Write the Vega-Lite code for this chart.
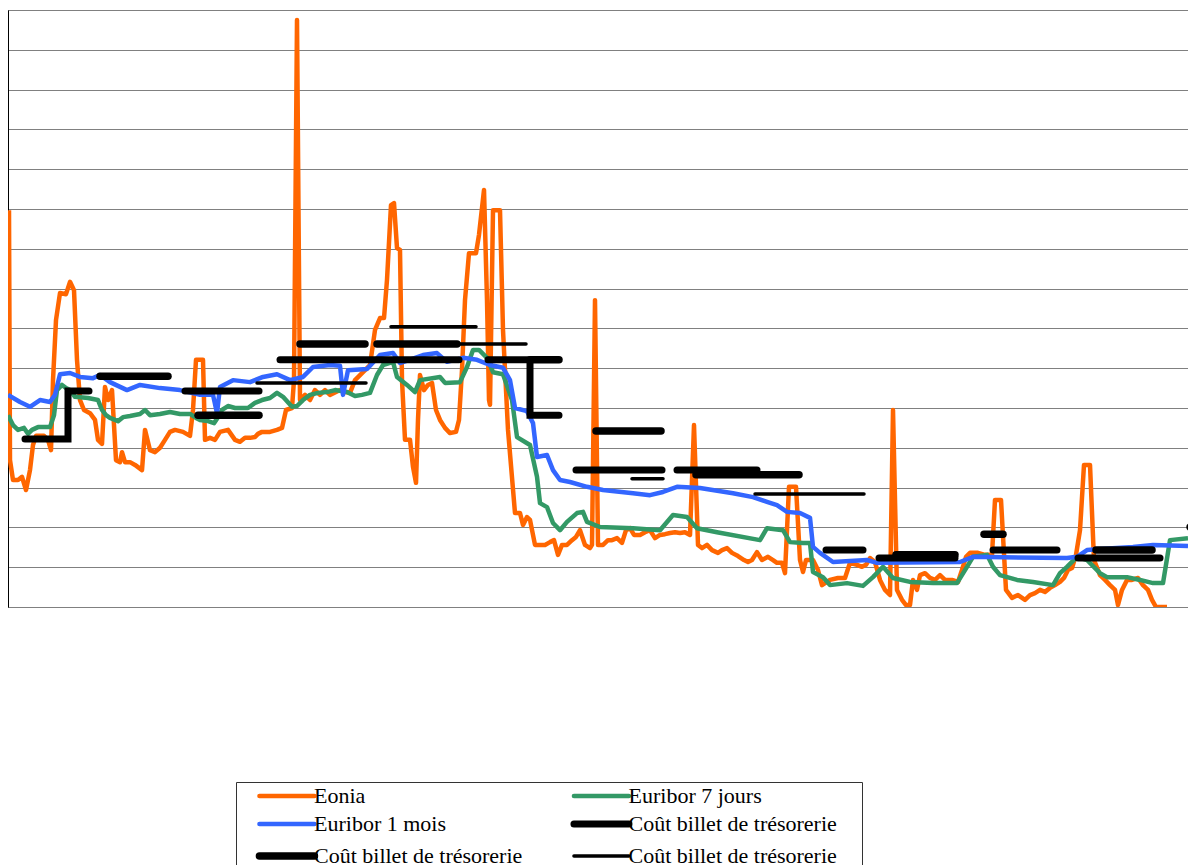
{
"$schema":"https://vega.github.io/schema/vega-lite/v6.json",
"width":1180,"height":597,
"autosize":{"type":"none"},
"padding":{"left":8,"top":10,"right":0,"bottom":258},
"background":"white",
"datasets":{
"rates":[
{"series":"Eonia","t":1,"v":9.97},{"series":"Eonia","t":2,"v":3.69},{"series":"Eonia","t":5,"v":3.19},{"series":"Eonia","t":10,"v":3.19},{"series":"Eonia","t":14,"v":3.27},{"series":"Eonia","t":18,"v":2.94},{"series":"Eonia","t":22,"v":3.44},{"series":"Eonia","t":25,"v":4.07},{"series":"Eonia","t":28,"v":4.3},{"series":"Eonia","t":36,"v":4.3},{"series":"Eonia","t":40,"v":4.2},{"series":"Eonia","t":43,"v":3.94},{"series":"Eonia","t":45,"v":5.7},{"series":"Eonia","t":48,"v":7.21},{"series":"Eonia","t":52,"v":7.89},{"series":"Eonia","t":58,"v":7.86},{"series":"Eonia","t":62,"v":8.17},{"series":"Eonia","t":66,"v":7.96},{"series":"Eonia","t":69,"v":6.21},{"series":"Eonia","t":72,"v":5.2},{"series":"Eonia","t":76,"v":4.95},{"series":"Eonia","t":82,"v":4.87},{"series":"Eonia","t":87,"v":4.7},{"series":"Eonia","t":90,"v":4.2},{"series":"Eonia","t":94,"v":4.1},{"series":"Eonia","t":97,"v":5.53},{"series":"Eonia","t":100,"v":5.2},{"series":"Eonia","t":104,"v":5.45},{"series":"Eonia","t":108,"v":3.69},{"series":"Eonia","t":112,"v":3.64},{"series":"Eonia","t":114,"v":3.89},{"series":"Eonia","t":117,"v":3.64},{"series":"Eonia","t":122,"v":3.64},{"series":"Eonia","t":127,"v":3.57},{"series":"Eonia","t":134,"v":3.44},{"series":"Eonia","t":137,"v":4.45},{"series":"Eonia","t":142,"v":3.94},{"series":"Eonia","t":147,"v":3.89},{"series":"Eonia","t":152,"v":4.0},{"series":"Eonia","t":157,"v":4.2},{"series":"Eonia","t":162,"v":4.4},{"series":"Eonia","t":167,"v":4.45},{"series":"Eonia","t":175,"v":4.4},{"series":"Eonia","t":182,"v":4.3},{"series":"Eonia","t":185,"v":4.95},{"series":"Eonia","t":188,"v":6.21},{"series":"Eonia","t":195,"v":6.21},{"series":"Eonia","t":197,"v":4.2},{"series":"Eonia","t":202,"v":4.25},{"series":"Eonia","t":207,"v":4.2},{"series":"Eonia","t":212,"v":4.4},{"series":"Eonia","t":220,"v":4.45},{"series":"Eonia","t":227,"v":4.2},{"series":"Eonia","t":232,"v":4.15},{"series":"Eonia","t":237,"v":4.25},{"series":"Eonia","t":242,"v":4.25},{"series":"Eonia","t":247,"v":4.27},{"series":"Eonia","t":250,"v":4.35},{"series":"Eonia","t":254,"v":4.4},{"series":"Eonia","t":262,"v":4.4},{"series":"Eonia","t":269,"v":4.45},{"series":"Eonia","t":274,"v":4.5},{"series":"Eonia","t":278,"v":4.95},{"series":"Eonia","t":284,"v":5.0},{"series":"Eonia","t":286,"v":5.7},{"series":"Eonia","t":289,"v":14.75},{"series":"Eonia","t":292,"v":5.2},{"series":"Eonia","t":297,"v":5.33},{"series":"Eonia","t":302,"v":5.2},{"series":"Eonia","t":307,"v":5.45},{"series":"Eonia","t":312,"v":5.33},{"series":"Eonia","t":317,"v":5.45},{"series":"Eonia","t":322,"v":5.33},{"series":"Eonia","t":332,"v":5.45},{"series":"Eonia","t":337,"v":5.4},{"series":"Eonia","t":342,"v":5.38},{"series":"Eonia","t":347,"v":5.7},{"series":"Eonia","t":357,"v":5.95},{"series":"Eonia","t":362,"v":6.08},{"series":"Eonia","t":367,"v":6.96},{"series":"Eonia","t":372,"v":7.26},{"series":"Eonia","t":376,"v":7.26},{"series":"Eonia","t":379,"v":8.22},{"series":"Eonia","t":383,"v":10.1},{"series":"Eonia","t":386,"v":10.15},{"series":"Eonia","t":389,"v":9.02},{"series":"Eonia","t":392,"v":8.97},{"series":"Eonia","t":394,"v":5.7},{"series":"Eonia","t":397,"v":4.2},{"series":"Eonia","t":402,"v":4.2},{"series":"Eonia","t":405,"v":3.52},{"series":"Eonia","t":408,"v":3.12},{"series":"Eonia","t":410,"v":4.7},{"series":"Eonia","t":412,"v":5.83},{"series":"Eonia","t":416,"v":5.45},{"series":"Eonia","t":420,"v":5.58},{"series":"Eonia","t":424,"v":5.63},{"series":"Eonia","t":428,"v":4.95},{"series":"Eonia","t":432,"v":4.7},{"series":"Eonia","t":437,"v":4.5},{"series":"Eonia","t":442,"v":4.37},{"series":"Eonia","t":448,"v":4.4},{"series":"Eonia","t":451,"v":4.7},{"series":"Eonia","t":454,"v":5.95},{"series":"Eonia","t":457,"v":7.71},{"series":"Eonia","t":461,"v":8.89},{"series":"Eonia","t":468,"v":8.89},{"series":"Eonia","t":471,"v":9.35},{"series":"Eonia","t":476,"v":10.48},{"series":"Eonia","t":479,"v":7.71},{"series":"Eonia","t":481,"v":5.2},{"series":"Eonia","t":482,"v":5.08},{"series":"Eonia","t":485,"v":9.97},{"series":"Eonia","t":492,"v":9.97},{"series":"Eonia","t":495,"v":6.96},{"series":"Eonia","t":500,"v":4.45},{"series":"Eonia","t":507,"v":2.36},{"series":"Eonia","t":512,"v":2.36},{"series":"Eonia","t":515,"v":2.06},{"series":"Eonia","t":519,"v":2.26},{"series":"Eonia","t":522,"v":2.19},{"series":"Eonia","t":527,"v":1.56},{"series":"Eonia","t":537,"v":1.56},{"series":"Eonia","t":542,"v":1.63},{"series":"Eonia","t":546,"v":1.68},{"series":"Eonia","t":550,"v":1.31},{"series":"Eonia","t":554,"v":1.56},{"series":"Eonia","t":559,"v":1.56},{"series":"Eonia","t":564,"v":1.68},{"series":"Eonia","t":568,"v":1.76},{"series":"Eonia","t":572,"v":1.93},{"series":"Eonia","t":577,"v":1.56},{"series":"Eonia","t":582,"v":1.48},{"series":"Eonia","t":584,"v":1.56},{"series":"Eonia","t":587,"v":7.71},{"series":"Eonia","t":590,"v":1.56},{"series":"Eonia","t":595,"v":1.56},{"series":"Eonia","t":600,"v":1.68},{"series":"Eonia","t":604,"v":1.68},{"series":"Eonia","t":609,"v":1.73},{"series":"Eonia","t":614,"v":1.61},{"series":"Eonia","t":618,"v":1.93},{"series":"Eonia","t":622,"v":1.98},{"series":"Eonia","t":626,"v":1.81},{"series":"Eonia","t":632,"v":1.81},{"series":"Eonia","t":637,"v":1.88},{"series":"Eonia","t":642,"v":1.93},{"series":"Eonia","t":647,"v":1.73},{"series":"Eonia","t":652,"v":1.81},{"series":"Eonia","t":657,"v":1.83},{"series":"Eonia","t":662,"v":1.86},{"series":"Eonia","t":667,"v":1.88},{"series":"Eonia","t":672,"v":1.86},{"series":"Eonia","t":677,"v":1.88},{"series":"Eonia","t":682,"v":1.81},{"series":"Eonia","t":686,"v":4.57},{"series":"Eonia","t":690,"v":1.56},{"series":"Eonia","t":694,"v":1.48},{"series":"Eonia","t":699,"v":1.56},{"series":"Eonia","t":704,"v":1.43},{"series":"Eonia","t":710,"v":1.36},{"series":"Eonia","t":714,"v":1.43},{"series":"Eonia","t":719,"v":1.48},{"series":"Eonia","t":724,"v":1.36},{"series":"Eonia","t":730,"v":1.28},{"series":"Eonia","t":736,"v":1.18},{"series":"Eonia","t":740,"v":1.13},{"series":"Eonia","t":744,"v":1.18},{"series":"Eonia","t":749,"v":1.38},{"series":"Eonia","t":754,"v":1.18},{"series":"Eonia","t":760,"v":1.26},{"series":"Eonia","t":765,"v":1.18},{"series":"Eonia","t":769,"v":1.11},{"series":"Eonia","t":774,"v":1.11},{"series":"Eonia","t":777,"v":0.85},{"series":"Eonia","t":781,"v":3.02},{"series":"Eonia","t":788,"v":3.02},{"series":"Eonia","t":792,"v":1.18},{"series":"Eonia","t":795,"v":0.88},{"series":"Eonia","t":798,"v":1.18},{"series":"Eonia","t":805,"v":1.18},{"series":"Eonia","t":810,"v":0.93},{"series":"Eonia","t":814,"v":0.55},{"series":"Eonia","t":822,"v":0.68},{"series":"Eonia","t":830,"v":0.73},{"series":"Eonia","t":837,"v":0.73},{"series":"Eonia","t":842,"v":1.11},{"series":"Eonia","t":849,"v":1.06},{"series":"Eonia","t":854,"v":1.01},{"series":"Eonia","t":858,"v":1.06},{"series":"Eonia","t":862,"v":1.23},{"series":"Eonia","t":867,"v":1.13},{"series":"Eonia","t":872,"v":0.68},{"series":"Eonia","t":877,"v":0.43},{"series":"Eonia","t":882,"v":0.3},{"series":"Eonia","t":885,"v":4.95},{"series":"Eonia","t":889,"v":0.43},{"series":"Eonia","t":894,"v":0.18},{"series":"Eonia","t":898,"v":0.05},{"series":"Eonia","t":902,"v":0.05},{"series":"Eonia","t":905,"v":0.68},{"series":"Eonia","t":909,"v":0.43},{"series":"Eonia","t":912,"v":0.8},{"series":"Eonia","t":917,"v":0.85},{"series":"Eonia","t":922,"v":0.73},{"series":"Eonia","t":927,"v":0.68},{"series":"Eonia","t":932,"v":0.8},{"series":"Eonia","t":937,"v":0.68},{"series":"Eonia","t":944,"v":0.68},{"series":"Eonia","t":950,"v":0.63},{"series":"Eonia","t":954,"v":0.93},{"series":"Eonia","t":958,"v":1.26},{"series":"Eonia","t":962,"v":1.36},{"series":"Eonia","t":970,"v":1.36},{"series":"Eonia","t":977,"v":1.31},{"series":"Eonia","t":984,"v":1.31},{"series":"Eonia","t":987,"v":2.69},{"series":"Eonia","t":993,"v":2.69},{"series":"Eonia","t":998,"v":0.43},{"series":"Eonia","t":1004,"v":0.23},{"series":"Eonia","t":1010,"v":0.3},{"series":"Eonia","t":1017,"v":0.18},{"series":"Eonia","t":1022,"v":0.3},{"series":"Eonia","t":1027,"v":0.35},{"series":"Eonia","t":1032,"v":0.43},{"series":"Eonia","t":1037,"v":0.38},{"series":"Eonia","t":1042,"v":0.48},{"series":"Eonia","t":1047,"v":0.55},{"series":"Eonia","t":1052,"v":0.63},{"series":"Eonia","t":1056,"v":0.73},{"series":"Eonia","t":1060,"v":0.93},{"series":"Eonia","t":1064,"v":0.98},{"series":"Eonia","t":1068,"v":1.31},{"series":"Eonia","t":1072,"v":1.93},{"series":"Eonia","t":1076,"v":3.57},{"series":"Eonia","t":1082,"v":3.57},{"series":"Eonia","t":1086,"v":1.18},{"series":"Eonia","t":1092,"v":0.8},{"series":"Eonia","t":1097,"v":0.68},{"series":"Eonia","t":1102,"v":0.55},{"series":"Eonia","t":1107,"v":0.43},{"series":"Eonia","t":1110,"v":0.05},{"series":"Eonia","t":1114,"v":0.43},{"series":"Eonia","t":1119,"v":0.68},{"series":"Eonia","t":1124,"v":0.68},{"series":"Eonia","t":1130,"v":0.73},{"series":"Eonia","t":1135,"v":0.55},{"series":"Eonia","t":1140,"v":0.43},{"series":"Eonia","t":1144,"v":0.18},{"series":"Eonia","t":1148,"v":0.0},{"series":"Eonia","t":1159,"v":0.0},
{"series":"Euribor 7 jours","t":0,"v":4.82},{"series":"Euribor 7 jours","t":5,"v":4.57},{"series":"Euribor 7 jours","t":10,"v":4.45},{"series":"Euribor 7 jours","t":16,"v":4.5},{"series":"Euribor 7 jours","t":20,"v":4.35},{"series":"Euribor 7 jours","t":24,"v":4.45},{"series":"Euribor 7 jours","t":30,"v":4.52},{"series":"Euribor 7 jours","t":42,"v":4.52},{"series":"Euribor 7 jours","t":46,"v":4.82},{"series":"Euribor 7 jours","t":49,"v":5.45},{"series":"Euribor 7 jours","t":54,"v":5.58},{"series":"Euribor 7 jours","t":58,"v":5.5},{"series":"Euribor 7 jours","t":62,"v":5.45},{"series":"Euribor 7 jours","t":67,"v":5.28},{"series":"Euribor 7 jours","t":80,"v":5.25},{"series":"Euribor 7 jours","t":90,"v":5.2},{"series":"Euribor 7 jours","t":94,"v":4.95},{"series":"Euribor 7 jours","t":98,"v":4.82},{"series":"Euribor 7 jours","t":102,"v":4.75},{"series":"Euribor 7 jours","t":110,"v":4.67},{"series":"Euribor 7 jours","t":115,"v":4.77},{"series":"Euribor 7 jours","t":122,"v":4.8},{"series":"Euribor 7 jours","t":132,"v":4.85},{"series":"Euribor 7 jours","t":137,"v":4.95},{"series":"Euribor 7 jours","t":142,"v":4.82},{"series":"Euribor 7 jours","t":152,"v":4.85},{"series":"Euribor 7 jours","t":162,"v":4.9},{"series":"Euribor 7 jours","t":172,"v":4.85},{"series":"Euribor 7 jours","t":182,"v":4.85},{"series":"Euribor 7 jours","t":188,"v":4.75},{"series":"Euribor 7 jours","t":192,"v":4.7},{"series":"Euribor 7 jours","t":200,"v":4.67},{"series":"Euribor 7 jours","t":206,"v":4.62},{"series":"Euribor 7 jours","t":210,"v":4.77},{"series":"Euribor 7 jours","t":214,"v":4.95},{"series":"Euribor 7 jours","t":220,"v":5.05},{"series":"Euribor 7 jours","t":227,"v":5.0},{"series":"Euribor 7 jours","t":240,"v":5.0},{"series":"Euribor 7 jours","t":247,"v":5.13},{"series":"Euribor 7 jours","t":254,"v":5.2},{"series":"Euribor 7 jours","t":262,"v":5.25},{"series":"Euribor 7 jours","t":269,"v":5.38},{"series":"Euribor 7 jours","t":275,"v":5.28},{"series":"Euribor 7 jours","t":284,"v":5.03},{"series":"Euribor 7 jours","t":289,"v":5.05},{"series":"Euribor 7 jours","t":295,"v":5.2},{"series":"Euribor 7 jours","t":302,"v":5.33},{"series":"Euribor 7 jours","t":310,"v":5.38},{"series":"Euribor 7 jours","t":319,"v":5.4},{"series":"Euribor 7 jours","t":327,"v":5.45},{"series":"Euribor 7 jours","t":339,"v":5.4},{"series":"Euribor 7 jours","t":347,"v":5.3},{"series":"Euribor 7 jours","t":354,"v":5.33},{"series":"Euribor 7 jours","t":362,"v":5.38},{"series":"Euribor 7 jours","t":369,"v":5.83},{"series":"Euribor 7 jours","t":375,"v":6.08},{"series":"Euribor 7 jours","t":385,"v":6.16},{"series":"Euribor 7 jours","t":389,"v":5.78},{"series":"Euribor 7 jours","t":399,"v":5.58},{"series":"Euribor 7 jours","t":407,"v":5.4},{"series":"Euribor 7 jours","t":412,"v":5.7},{"series":"Euribor 7 jours","t":432,"v":5.78},{"series":"Euribor 7 jours","t":437,"v":5.63},{"series":"Euribor 7 jours","t":452,"v":5.65},{"series":"Euribor 7 jours","t":459,"v":6.03},{"series":"Euribor 7 jours","t":465,"v":6.46},{"series":"Euribor 7 jours","t":471,"v":6.46},{"series":"Euribor 7 jours","t":479,"v":6.26},{"series":"Euribor 7 jours","t":485,"v":5.9},{"series":"Euribor 7 jours","t":495,"v":5.85},{"series":"Euribor 7 jours","t":504,"v":5.2},{"series":"Euribor 7 jours","t":509,"v":4.27},{"series":"Euribor 7 jours","t":522,"v":4.07},{"series":"Euribor 7 jours","t":529,"v":3.27},{"series":"Euribor 7 jours","t":532,"v":2.61},{"series":"Euribor 7 jours","t":539,"v":2.51},{"series":"Euribor 7 jours","t":545,"v":2.11},{"series":"Euribor 7 jours","t":552,"v":1.93},{"series":"Euribor 7 jours","t":559,"v":2.14},{"series":"Euribor 7 jours","t":569,"v":2.36},{"series":"Euribor 7 jours","t":575,"v":2.39},{"series":"Euribor 7 jours","t":579,"v":2.14},{"series":"Euribor 7 jours","t":592,"v":2.01},{"series":"Euribor 7 jours","t":625,"v":1.98},{"series":"Euribor 7 jours","t":652,"v":1.93},{"series":"Euribor 7 jours","t":665,"v":2.31},{"series":"Euribor 7 jours","t":679,"v":2.26},{"series":"Euribor 7 jours","t":689,"v":1.98},{"series":"Euribor 7 jours","t":709,"v":1.88},{"series":"Euribor 7 jours","t":752,"v":1.68},{"series":"Euribor 7 jours","t":759,"v":1.98},{"series":"Euribor 7 jours","t":775,"v":1.93},{"series":"Euribor 7 jours","t":782,"v":1.63},{"series":"Euribor 7 jours","t":795,"v":1.61},{"series":"Euribor 7 jours","t":802,"v":1.61},{"series":"Euribor 7 jours","t":805,"v":0.88},{"series":"Euribor 7 jours","t":815,"v":0.75},{"series":"Euribor 7 jours","t":822,"v":0.55},{"series":"Euribor 7 jours","t":839,"v":0.6},{"series":"Euribor 7 jours","t":855,"v":0.53},{"series":"Euribor 7 jours","t":865,"v":0.75},{"series":"Euribor 7 jours","t":875,"v":1.01},{"series":"Euribor 7 jours","t":885,"v":0.73},{"series":"Euribor 7 jours","t":902,"v":0.63},{"series":"Euribor 7 jours","t":925,"v":0.6},{"series":"Euribor 7 jours","t":949,"v":0.6},{"series":"Euribor 7 jours","t":959,"v":1.01},{"series":"Euribor 7 jours","t":965,"v":1.26},{"series":"Euribor 7 jours","t":979,"v":1.31},{"series":"Euribor 7 jours","t":985,"v":1.01},{"series":"Euribor 7 jours","t":992,"v":0.8},{"series":"Euribor 7 jours","t":1009,"v":0.68},{"series":"Euribor 7 jours","t":1025,"v":0.63},{"series":"Euribor 7 jours","t":1045,"v":0.55},{"series":"Euribor 7 jours","t":1052,"v":0.85},{"series":"Euribor 7 jours","t":1059,"v":1.01},{"series":"Euribor 7 jours","t":1069,"v":1.26},{"series":"Euribor 7 jours","t":1079,"v":1.18},{"series":"Euribor 7 jours","t":1092,"v":0.85},{"series":"Euribor 7 jours","t":1099,"v":0.75},{"series":"Euribor 7 jours","t":1119,"v":0.75},{"series":"Euribor 7 jours","t":1132,"v":0.68},{"series":"Euribor 7 jours","t":1145,"v":0.6},{"series":"Euribor 7 jours","t":1155,"v":0.6},{"series":"Euribor 7 jours","t":1162,"v":1.68},{"series":"Euribor 7 jours","t":1180,"v":1.73},
{"series":"Euribor 1 mois","t":0,"v":5.33},{"series":"Euribor 1 mois","t":12,"v":5.15},{"series":"Euribor 1 mois","t":22,"v":5.03},{"series":"Euribor 1 mois","t":32,"v":5.2},{"series":"Euribor 1 mois","t":42,"v":5.15},{"series":"Euribor 1 mois","t":47,"v":5.33},{"series":"Euribor 1 mois","t":52,"v":5.85},{"series":"Euribor 1 mois","t":62,"v":5.88},{"series":"Euribor 1 mois","t":72,"v":5.78},{"series":"Euribor 1 mois","t":85,"v":5.75},{"series":"Euribor 1 mois","t":92,"v":5.83},{"series":"Euribor 1 mois","t":102,"v":5.65},{"series":"Euribor 1 mois","t":119,"v":5.45},{"series":"Euribor 1 mois","t":132,"v":5.58},{"series":"Euribor 1 mois","t":152,"v":5.5},{"series":"Euribor 1 mois","t":172,"v":5.45},{"series":"Euribor 1 mois","t":192,"v":5.33},{"series":"Euribor 1 mois","t":205,"v":5.33},{"series":"Euribor 1 mois","t":209,"v":4.87},{"series":"Euribor 1 mois","t":212,"v":5.53},{"series":"Euribor 1 mois","t":225,"v":5.7},{"series":"Euribor 1 mois","t":242,"v":5.65},{"series":"Euribor 1 mois","t":255,"v":5.78},{"series":"Euribor 1 mois","t":269,"v":5.85},{"series":"Euribor 1 mois","t":282,"v":5.7},{"series":"Euribor 1 mois","t":295,"v":5.78},{"series":"Euribor 1 mois","t":305,"v":6.03},{"series":"Euribor 1 mois","t":322,"v":6.08},{"series":"Euribor 1 mois","t":332,"v":6.06},{"series":"Euribor 1 mois","t":335,"v":5.33},{"series":"Euribor 1 mois","t":340,"v":5.95},{"series":"Euribor 1 mois","t":359,"v":5.98},{"series":"Euribor 1 mois","t":372,"v":6.33},{"series":"Euribor 1 mois","t":385,"v":6.38},{"series":"Euribor 1 mois","t":392,"v":6.13},{"series":"Euribor 1 mois","t":415,"v":6.33},{"series":"Euribor 1 mois","t":429,"v":6.38},{"series":"Euribor 1 mois","t":439,"v":6.16},{"series":"Euribor 1 mois","t":455,"v":6.26},{"series":"Euribor 1 mois","t":469,"v":6.21},{"series":"Euribor 1 mois","t":482,"v":6.08},{"series":"Euribor 1 mois","t":495,"v":6.01},{"series":"Euribor 1 mois","t":502,"v":5.7},{"series":"Euribor 1 mois","t":507,"v":5.0},{"series":"Euribor 1 mois","t":519,"v":4.92},{"series":"Euribor 1 mois","t":525,"v":4.62},{"series":"Euribor 1 mois","t":529,"v":3.77},{"series":"Euribor 1 mois","t":539,"v":3.82},{"series":"Euribor 1 mois","t":545,"v":3.44},{"series":"Euribor 1 mois","t":552,"v":3.19},{"series":"Euribor 1 mois","t":562,"v":3.14},{"series":"Euribor 1 mois","t":579,"v":3.02},{"series":"Euribor 1 mois","t":595,"v":2.94},{"series":"Euribor 1 mois","t":625,"v":2.86},{"series":"Euribor 1 mois","t":642,"v":2.81},{"series":"Euribor 1 mois","t":655,"v":2.89},{"series":"Euribor 1 mois","t":669,"v":3.02},{"series":"Euribor 1 mois","t":692,"v":2.99},{"series":"Euribor 1 mois","t":725,"v":2.86},{"series":"Euribor 1 mois","t":745,"v":2.76},{"series":"Euribor 1 mois","t":759,"v":2.64},{"series":"Euribor 1 mois","t":769,"v":2.56},{"series":"Euribor 1 mois","t":779,"v":2.39},{"series":"Euribor 1 mois","t":792,"v":2.36},{"series":"Euribor 1 mois","t":802,"v":2.24},{"series":"Euribor 1 mois","t":805,"v":1.51},{"series":"Euribor 1 mois","t":812,"v":1.36},{"series":"Euribor 1 mois","t":825,"v":1.13},{"series":"Euribor 1 mois","t":859,"v":1.18},{"series":"Euribor 1 mois","t":869,"v":1.11},{"series":"Euribor 1 mois","t":952,"v":1.13},{"series":"Euribor 1 mois","t":965,"v":1.26},{"series":"Euribor 1 mois","t":1059,"v":1.23},{"series":"Euribor 1 mois","t":1069,"v":1.26},{"series":"Euribor 1 mois","t":1079,"v":1.43},{"series":"Euribor 1 mois","t":1092,"v":1.46},{"series":"Euribor 1 mois","t":1125,"v":1.51},{"series":"Euribor 1 mois","t":1145,"v":1.56},{"series":"Euribor 1 mois","t":1180,"v":1.53}
],
"billets":[
{"series":"Billet A","seg":"a1","t":17,"v":4.22},{"series":"Billet A","seg":"a1","t":60,"v":4.22},{"series":"Billet A","seg":"a1","t":60,"v":5.43},{"series":"Billet A","seg":"a1","t":81,"v":5.43},
{"series":"Billet A","seg":"a2","t":177,"v":5.43},{"series":"Billet A","seg":"a2","t":251,"v":5.43},
{"series":"Billet A","seg":"a3","t":272,"v":6.21},{"series":"Billet A","seg":"a3","t":451,"v":6.21},
{"series":"Billet A","seg":"a4","t":480,"v":6.21},{"series":"Billet A","seg":"a4","t":522,"v":6.21},{"series":"Billet A","seg":"a4","t":522,"v":4.82},{"series":"Billet A","seg":"a4","t":551,"v":4.82},
{"series":"Billet A","seg":"a5","t":568,"v":3.44},{"series":"Billet A","seg":"a5","t":654,"v":3.44},
{"series":"Billet A","seg":"a6","t":669,"v":3.44},{"series":"Billet A","seg":"a6","t":749,"v":3.44},
{"series":"Billet A","seg":"a7","t":818,"v":1.43},{"series":"Billet A","seg":"a7","t":855,"v":1.43},
{"series":"Billet A","seg":"a8","t":871,"v":1.23},{"series":"Billet A","seg":"a8","t":947,"v":1.23},
{"series":"Billet A","seg":"a9","t":985,"v":1.43},{"series":"Billet A","seg":"a9","t":1049,"v":1.43},
{"series":"Billet A","seg":"a10","t":1070,"v":1.23},{"series":"Billet A","seg":"a10","t":1152,"v":1.23},
{"series":"Billet B","seg":"b1","t":92,"v":5.8},{"series":"Billet B","seg":"b1","t":160,"v":5.8},
{"series":"Billet B","seg":"b2","t":190,"v":4.82},{"series":"Billet B","seg":"b2","t":251,"v":4.82},
{"series":"Billet B","seg":"b3","t":292,"v":6.61},{"series":"Billet B","seg":"b3","t":357,"v":6.61},
{"series":"Billet B","seg":"b4","t":369,"v":6.61},{"series":"Billet B","seg":"b4","t":449,"v":6.61},
{"series":"Billet B","seg":"b5","t":522,"v":6.21},{"series":"Billet B","seg":"b5","t":551,"v":6.21},
{"series":"Billet B","seg":"b6","t":588,"v":4.42},{"series":"Billet B","seg":"b6","t":653,"v":4.42},
{"series":"Billet B","seg":"b7","t":688,"v":3.32},{"series":"Billet B","seg":"b7","t":791,"v":3.32},
{"series":"Billet B","seg":"b8","t":888,"v":1.31},{"series":"Billet B","seg":"b8","t":947,"v":1.31},
{"series":"Billet B","seg":"b9","t":976,"v":1.83},{"series":"Billet B","seg":"b9","t":995,"v":1.83},
{"series":"Billet B","seg":"b10","t":1088,"v":1.43},{"series":"Billet B","seg":"b10","t":1144,"v":1.43},
{"series":"Billet B","seg":"b11","t":1182,"v":2.01},{"series":"Billet B","seg":"b11","t":1200,"v":2.01},
{"series":"Billet C","seg":"c1","t":249,"v":5.63},{"series":"Billet C","seg":"c1","t":358,"v":5.63},
{"series":"Billet C","seg":"c2","t":383,"v":7.04},{"series":"Billet C","seg":"c2","t":468,"v":7.04},
{"series":"Billet C","seg":"c3","t":452,"v":6.61},{"series":"Billet C","seg":"c3","t":518,"v":6.61},
{"series":"Billet C","seg":"c4","t":624,"v":3.22},{"series":"Billet C","seg":"c4","t":655,"v":3.22},
{"series":"Billet C","seg":"c5","t":747,"v":2.84},{"series":"Billet C","seg":"c5","t":856,"v":2.84}
]
},
"encoding":{
"x":{"field":"t","type":"quantitative","scale":{"domain":[0,1180],"nice":false,"zero":false},"axis":null},
"y":{"field":"v","type":"quantitative","scale":{"domain":[0,15],"nice":false},
"axis":{"values":[0,1,2,3,4,5,6,7,8,9,10,11,12,13,14,15],"labels":false,"ticks":false,"title":null,"domain":true,"domainColor":"#000","domainWidth":1,"grid":true,"gridColor":"#000","gridDash":[1,1],"gridWidth":1,"gridOpacity":1}},
"color":{"field":"series","type":"nominal",
"scale":{"domain":["Eonia","Euribor 7 jours","Euribor 1 mois","Billet A","Billet B","Billet C"],"range":["#FF6600","#339966","#3366FF","#000000","#000000","#000000"]},
"legend":{"orient":"none","legendX":228,"legendY":772,"columns":2,"title":null,"direction":"horizontal",
"symbolType":"M1.72,0L11.72,0","symbolSize":121,"labelOffset":53,"labelFont":"Liberation Serif","labelFontSize":22,"labelColor":"#000","labelLimit":500,
"rowPadding":3,"columnPadding":9.5,"padding":3,"strokeColor":"#333","fillColor":"#fff",
"labelExpr":"test(/^Billet/, datum.label) ? 'Coût billet de trésorerie \u2800' : datum.label",
"encode":{"symbols":{"update":{"strokeCap":{"value":"round"}}}}}},
"strokeWidth":{"field":"series","type":"nominal",
"scale":{"type":"ordinal","domain":["Eonia","Euribor 7 jours","Euribor 1 mois","Billet A","Billet B","Billet C"],"range":[4.5,4.5,4.5,7,7.5,3.5]}}
},
"layer":[
{"data":{"name":"rates"},"mark":{"type":"line","strokeJoin":"round","clip":true}},
{"data":{"name":"billets"},"mark":{"type":"line","strokeCap":"round","clip":true},"encoding":{"detail":{"field":"seg","type":"nominal"}}}
],
"config":{"view":{"stroke":null},"font":"Liberation Serif"}
}
